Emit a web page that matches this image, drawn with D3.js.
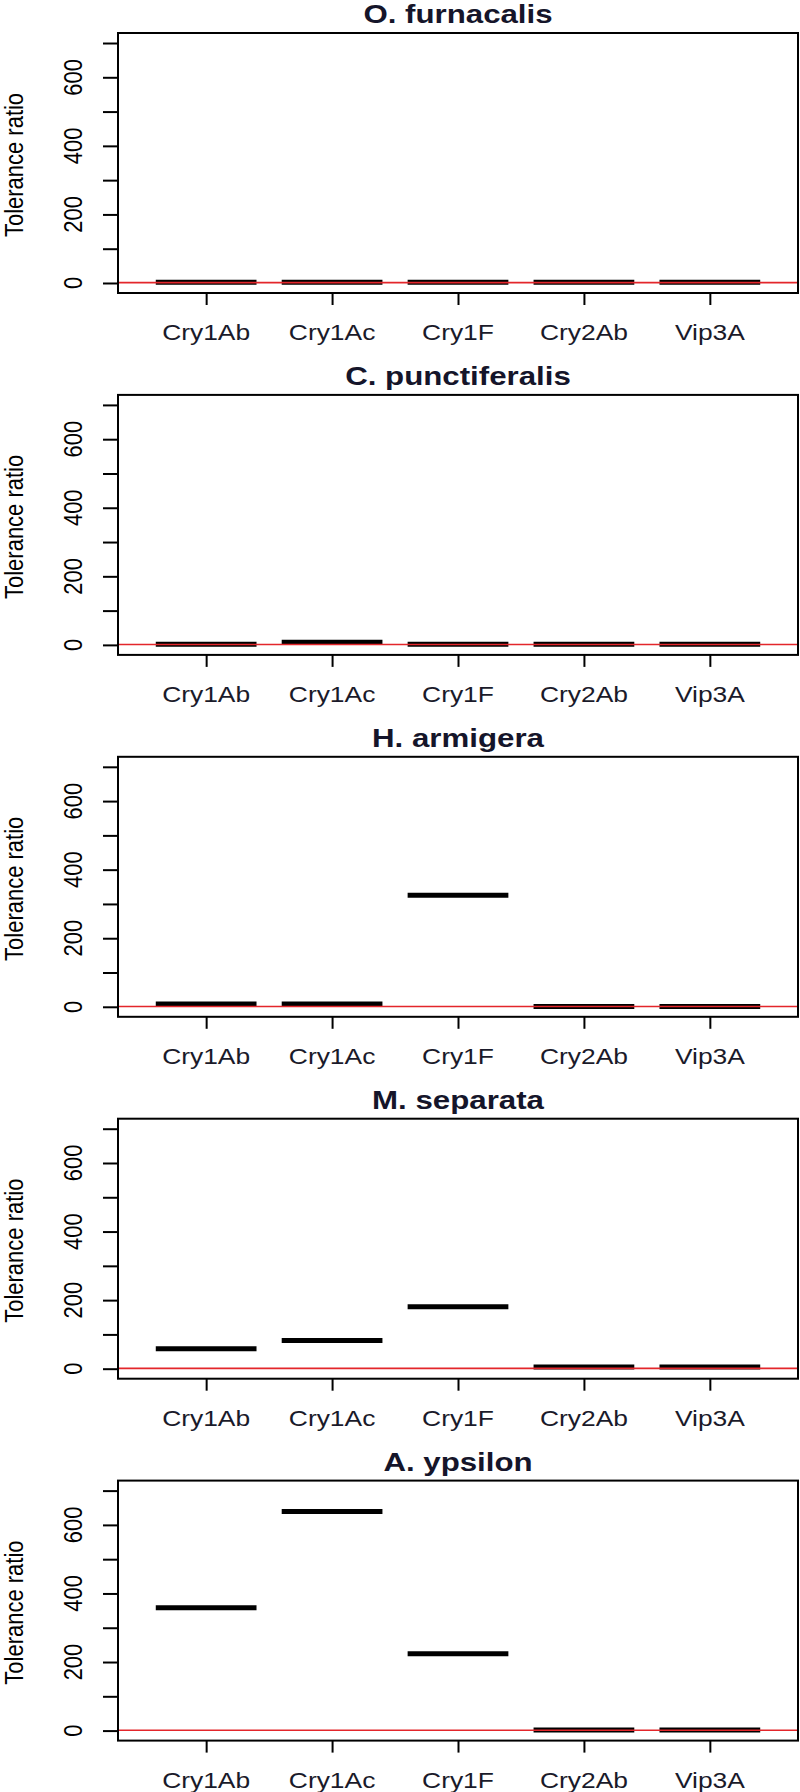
<!DOCTYPE html>
<html>
<head>
<meta charset="utf-8">
<script src="https://cdn.jsdelivr.net/npm/d3@7"></script>
<style>
    body { margin: 0; background: #fff; }
    text { font-family: "Liberation Sans", Arial, sans-serif; fill: #000; }
</style>
</head>
<body>
<svg id="chart" width="800" height="1792"></svg>
<script>
// tolerance ratio per toxin, one array per species
var species = ["O. furnacalis", "C. punctiferalis", "H. armigera", "M. separata", "A. ypsilon"];
var toxins = ["Cry1Ab", "Cry1Ac", "Cry1F", "Cry2Ab", "Vip3A"];
var furnacalis = [2, 2, 2, 2, 2];
var punctiferalis = [2, 8, 2, 2, 2];
var armigera = [8, 8, 325, 1, 1];
var separata = [58, 82, 181, 5, 5];
var ypsilon = [358, 639, 224, 2, 2];
var yTicks = [0, 100, 200, 300, 400, 500, 600, 700];
var yLabels = [0, 200, 400, 600];
var refLine = 1;

var panels = [furnacalis, punctiferalis, armigera, separata, ypsilon];

var svg = d3.select("#chart");
svg.append("rect").attr("width", 800).attr("height", 1792).attr("fill", "#fff");

// the original picture is stretched sideways, text gets the same stretch
var stretch = 1.2;
var top0 = 33, step = 361.9, boxH = 260;

var x = d3.scaleLinear().domain([0.3, 5.7]).range([118, 798]);
var y = d3.scaleLinear().domain([-29.2, 729.2]).range([boxH, 0]);

for (var p = 0; p < panels.length; p++) {
    var g = svg.append("g").attr("transform", "translate(0," + (top0 + p * step) + ")");
    var vals = panels[p];

    // title
    g.append("text")
        .attr("transform", "translate(" + ((x.range()[0] + x.range()[1]) / 2) + ",-10) scale(1.25,1)")
        .attr("text-anchor", "middle")
        .style("font-size", "25px")
        .style("font-weight", "bold")
        .style("fill", "#15152a")
        .text(species[p]);

    // y axis ticks
    var yAxis = g.append("g")
        .attr("transform", "translate(118,0)")
        .call(d3.axisLeft(y).tickValues(yTicks).tickSize(15).tickFormat(""));
    yAxis.select(".domain").remove();
    yAxis.selectAll("line").attr("stroke", "#000").attr("stroke-width", 2);

    g.selectAll(".ylab")
        .data(yLabels)
        .enter().append("text")
        .attr("transform", function (d) {
            return "translate(82," + y(d) + ") scale(" + stretch + ",1) rotate(-90)";
        })
        .attr("text-anchor", "middle")
        .style("font-size", "22px")
        .text(function (d) { return d; });

    g.append("text")
        .attr("transform", "translate(23," + (boxH / 2 + 2) + ") scale(" + stretch + ",1) rotate(-90)")
        .attr("text-anchor", "middle")
        .style("font-size", "22px")
        .text("Tolerance ratio");

    // x axis ticks and labels
    var xAxis = g.append("g")
        .attr("transform", "translate(0," + boxH + ")")
        .call(d3.axisBottom(x).tickValues([1, 2, 3, 4, 5]).tickSize(12).tickFormat(""));
    xAxis.select(".domain").remove();
    xAxis.selectAll("line").attr("stroke", "#000").attr("stroke-width", 2);

    g.selectAll(".xlab")
        .data(toxins)
        .enter().append("text")
        .attr("transform", function (d, i) {
            return "translate(" + x(i + 1) + "," + (boxH + 47) + ") scale(" + stretch + ",1)";
        })
        .attr("text-anchor", "middle")
        .style("font-size", "22px")
        .style("fill", "#1a1a2a")
        .text(function (d) { return d; });

    // medians
    g.selectAll(".med")
        .data(vals)
        .enter().append("line")
        .attr("x1", function (d, i) { return x(i + 1 - 0.4); })
        .attr("x2", function (d, i) { return x(i + 1 + 0.4); })
        .attr("y1", function (d) { return y(d); })
        .attr("y2", function (d) { return y(d); })
        .attr("stroke", "#000")
        .attr("stroke-width", 5);

    // reference line
    g.append("line")
        .attr("x1", x.range()[0]).attr("x2", x.range()[1])
        .attr("y1", y(refLine)).attr("y2", y(refLine))
        .attr("stroke", "#e3262b")
        .attr("stroke-width", 1.6);

    // plot box
    g.append("rect")
        .attr("x", x.range()[0]).attr("y", 0)
        .attr("width", x.range()[1] - x.range()[0])
        .attr("height", boxH)
        .attr("fill", "none")
        .attr("stroke", "#000")
        .attr("stroke-width", 2);
}
</script>
</body>
</html>
